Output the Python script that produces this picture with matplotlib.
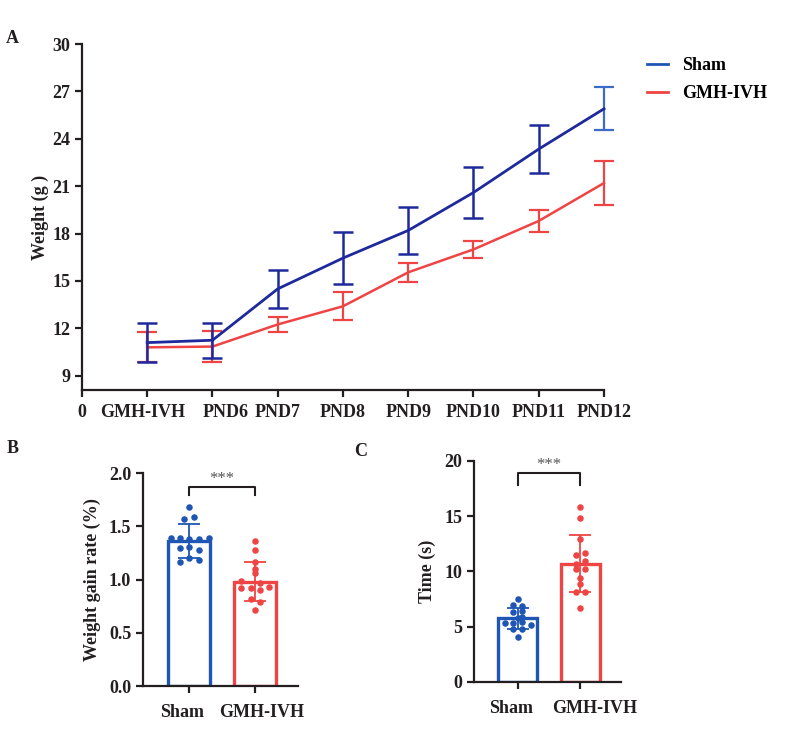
import matplotlib
matplotlib.use("Agg")
import matplotlib.pyplot as plt
from matplotlib.lines import Line2D
import matplotlib.transforms as mtransforms
import numpy as np

plt.rcParams['font.family'] = ['Liberation Serif', 'DejaVu Serif']
plt.rcParams['font.weight'] = 'bold'

# ---------------- data ----------------
days = ["0", "GMH-IVH", "PND6", "PND7", "PND8", "PND9", "PND10", "PND11", "PND12"]
sham_weight = [11.1, 11.25, 14.5, 16.45, 18.2, 20.6, 23.35, 25.9]
sham_sd = [1.23, 1.12, 1.2, 1.65, 1.5, 1.6, 1.52, 1.35]
gmh_weight = [10.8, 10.85, 12.25, 13.4, 15.55, 17.0, 18.8, 21.2]
gmh_sd = [0.95, 0.98, 0.47, 0.9, 0.6, 0.53, 0.72, 1.38]

groups = ["Sham", "GMH-IVH"]
gain_mean = [1.36, 0.98]
gain_sd = [0.16, 0.185]
gain_sham = [1.68, 1.57, 1.59, 1.39, 1.39, 1.38, 1.38, 1.39, 1.30, 1.31, 1.28, 1.20, 1.16, 1.18]
gain_sham_off = [0.0, -0.08, 0.08, -0.28, -0.14, 0.0, 0.15, 0.30, -0.14, 0.0, 0.15, 0.0, -0.14, 0.15]
gain_gmh = [1.36, 1.28, 1.16, 1.10, 1.06, 0.99, 0.92, 0.92, 0.97, 0.93, 0.90, 0.82, 0.79, 0.71]
gain_gmh_off = [0.0, 0.0, 0.0, 0.0, 0.0, -0.21, -0.21, -0.07, 0.07, 0.21, 0.07, -0.07, 0.07, 0.0]

time_mean = [5.75, 10.7]
time_sd = [0.98, 2.6]
time_sham = [7.5, 6.97, 6.9, 6.3, 6.45, 5.9, 5.37, 5.3, 5.46, 5.16, 4.77, 4.77, 4.04, 5.8]
time_sham_off = [0.0, -0.07, 0.07, -0.07, 0.07, 0.07, -0.21, -0.07, 0.07, 0.21, -0.07, 0.07, 0.0, 0.0]
time_gmh = [15.87, 14.87, 12.94, 11.5, 11.7, 10.7, 10.95, 10.2, 10.2, 9.38, 8.9, 8.17, 8.1, 6.67]
time_gmh_off = [0.0, 0.0, 0.0, -0.07, 0.07, -0.07, 0.07, -0.07, 0.07, 0.0, 0.0, -0.07, 0.07, 0.0]

# ---------------- style ----------------
NAVY = '#1e2a9c'
BLUE = '#1f56b3'
LIGHTBLUE = '#3a6cc8'
RED = '#ef4444'
TXT = '#231f20'
FS = 13

fig = plt.figure(figsize=(7.88, 7.36), dpi=100)

def style_axes(ax):
    for s in ['top', 'right']:
        ax.spines[s].set_visible(False)
    for s in ['left', 'bottom']:
        ax.spines[s].set_linewidth(1.6)
        ax.spines[s].set_color(TXT)
    ax.tick_params(direction='out', length=5, width=1.6, colors=TXT, labelsize=FS)
    for lab in ax.get_xticklabels() + ax.get_yticklabels():
        lab.set_fontweight('bold')

def shift_labels(ax, shifts_px):
    for lab, dx in zip(ax.get_xticklabels(), shifts_px):
        if dx:
            lab.set_transform(lab.get_transform() +
                              mtransforms.ScaledTranslation(dx / 100.0, 0, fig.dpi_scale_trans))

def unclip(container):
    for art in container.lines:
        if art is None:
            continue
        if isinstance(art, tuple):
            for a in art:
                a.set_clip_on(False)
        else:
            art.set_clip_on(False)

# ---------------- panel A ----------------
axA = fig.add_axes([0.104, 0.4701, 0.6625, 0.4701])
xs = np.arange(1, len(sham_weight) + 1)
last = len(xs) - 1
ebA = axA.errorbar(xs, sham_weight, color=NAVY, lw=2.0, zorder=3)
unclip(ebA)
eb1 = axA.errorbar(xs[:last], sham_weight[:last], yerr=sham_sd[:last], fmt='none',
                   ecolor=NAVY, elinewidth=1.8, capsize=7, capthick=1.8, zorder=3)
eb2 = axA.errorbar(xs[last:], sham_weight[last:], yerr=sham_sd[last:], fmt='none',
                   ecolor=LIGHTBLUE, elinewidth=1.6, capsize=7, capthick=1.6, zorder=3)
eb3 = axA.errorbar(xs, gmh_weight, yerr=gmh_sd, color=RED, lw=1.8, elinewidth=1.6,
                   capsize=7, capthick=1.6, zorder=2)
for c in (eb1, eb2, eb3):
    unclip(c)
axA.set_xlim(0, 8)
axA.set_ylim(8.1, 30)
axA.set_xticks(range(len(days)))
axA.set_xticklabels(days)
axA.set_yticks(range(9, 31, 3))
axA.set_ylabel('Weight (g )', fontsize=FS, fontweight='bold', color=TXT, labelpad=2)
style_axes(axA)
axA.tick_params(axis='x', pad=5)
shift_labels(axA, [0, -5, 13, 0, 0, 0, 0, 0, 0])

handles = [Line2D([], [], color=BLUE, lw=2), Line2D([], [], color=RED, lw=2)]
fig.legend(handles, groups, loc='upper left', bbox_to_anchor=(0.821, 0.922),
           frameon=False, handlelength=1.15, handletextpad=0.8, labelspacing=0.6,
           borderaxespad=0, borderpad=0,
           prop={'family': 'Liberation Serif', 'weight': 'bold', 'size': FS})

# ---------------- bar panels ----------------
def bar_panel(rect, means, sds, pts, offs, ylim, yticks, yfmt, ylabel, bracket, shifts):
    ax = fig.add_axes(rect)
    cols = [BLUE, RED]
    for i in range(2):
        ax.bar(i, means[i], width=0.63, facecolor='white', edgecolor=cols[i],
               linewidth=2.4, zorder=1)
        ax.errorbar(i, means[i], yerr=sds[i], color=cols[i], elinewidth=1.3,
                    capsize=8, capthick=1.3, zorder=3)
        ax.scatter(np.array(offs[i]) + i, pts[i], s=22, color=cols[i],
                   zorder=4, linewidths=0)
    ax.set_xlim(-0.7, 1.65)
    ax.set_ylim(*ylim)
    ax.set_yticks(yticks)
    ax.set_yticklabels([yfmt.format(t) for t in yticks])
    ax.set_xticks([0, 1])
    ax.set_xticklabels(groups)
    ax.set_ylabel(ylabel, fontsize=FS, fontweight='bold', color=TXT, labelpad=6)
    style_axes(ax)
    ax.tick_params(axis='x', pad=8)
    shift_labels(ax, shifts)
    yb, yl = bracket
    ax.plot([0, 0, 1, 1], [yl, yb, yb, yl], color=TXT, lw=1.5, clip_on=False)
    ax.text(0.5, yb, '***', ha='center', va='bottom', fontsize=12, color='#555555',
            fontweight='normal')
    return ax

bar_panel([0.1815, 0.0679, 0.1967, 0.2894], gain_mean, gain_sd,
          [gain_sham, gain_gmh], [gain_sham_off, gain_gmh_off],
          (0, 2.0), [0.0, 0.5, 1.0, 1.5, 2.0], '{:.1f}', 'Weight gain rate (%)',
          (1.87, 1.79), [-7, 7])
bar_panel([0.6015, 0.0734, 0.1865, 0.3003], time_mean, time_sd,
          [time_sham, time_gmh], [time_sham_off, time_gmh_off],
          (0, 20), [0, 5, 10, 15, 20], '{:d}', 'Time (s)',
          (18.9, 17.8), [-7, 14])

# panel letters
fig.text(0.008, 0.942, 'A', fontsize=13, fontweight='bold', color=TXT)
fig.text(0.008, 0.384, 'B', fontsize=13, fontweight='bold', color=TXT)
fig.text(0.450, 0.381, 'C', fontsize=13, fontweight='bold', color=TXT)

fig.savefig('out.png', dpi=100)
